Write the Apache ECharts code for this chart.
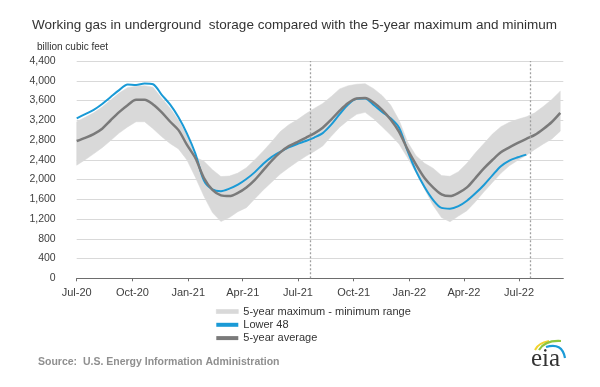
<!DOCTYPE html>
<html><head><meta charset="utf-8">
<script src="https://cdn.jsdelivr.net/npm/echarts@6/dist/echarts.min.js"></script>
<style>html,body{margin:0;padding:0;background:#fff}#c{width:600px;height:387px}</style>
</head><body><div id="c"></div>
<script>
// Data sampled every 14 days starting 2020-07-01 (billion cubic feet)
const startDate = '2020-07-01';
const stepDays = 14;
const endDate = '2022-09-12';

const lower48 = [
  3240,3325,3410,3530,3670,3810,3925,3915,3945,3930,
  3720,3520,3260,2930,2520,1980,1800,1765,1815,1895,
  2010,2150,2320,2460,2560,2650,2720,2780,2850,2940,
  3110,3325,3520,3635,3640,3510,3370,3240,3050,2580,
  2170,1850,1590,1425,1410,1460,1570,1720,1890,2085,
  2270,2385,2450,2505
];
const avg5 = [
  2780,2845,2920,3030,3200,3365,3505,3615,3615,3520,
  3365,3175,3000,2700,2430,2030,1790,1680,1665,1730,
  1840,1995,2190,2385,2550,2675,2755,2845,2935,3050,
  3215,3395,3550,3640,3650,3560,3410,3215,2965,2610,
  2300,2030,1840,1700,1665,1730,1840,2030,2225,2395,
  2550,2650,2740,2825,2905,3025,3165,3350
];
const max5 = [
  3170,3260,3350,3470,3610,3750,3860,3890,3900,3870,
  3650,3450,3200,2900,2450,2370,2200,2060,2070,2130,
  2240,2400,2580,2770,2970,3110,3210,3330,3440,3540,
  3680,3835,3900,3930,3940,3840,3700,3510,3200,2760,
  2480,2330,2230,2080,2065,2160,2330,2540,2730,2920,
  3070,3160,3220,3270,3350,3480,3620,3790
];
const min5 = [
  2290,2400,2520,2645,2790,2940,3065,3170,3170,3030,
  2870,2730,2620,2395,2040,1660,1330,1150,1230,1350,
  1430,1610,1790,1950,2110,2240,2360,2470,2570,2680,
  2875,3060,3200,3320,3360,3230,3070,2900,2720,2440,
  2140,1810,1480,1230,1145,1260,1370,1550,1750,1940,
  2125,2280,2390,2490,2610,2720,2820,2980
];
const tickDates = ['2020-07-01','2020-10-01','2021-01-01','2021-04-01','2021-07-01','2021-10-01','2022-01-01','2022-04-01','2022-07-01'];
const refDates = ['2021-07-22','2022-07-20'];
const yMin = 0, yMax = 4400, yStep = 400;
const monthNames = ['Jan','Feb','Mar','Apr','May','Jun','Jul','Aug','Sep','Oct','Nov','Dec'];

const DAY = 86400000;
const t0 = Date.parse(startDate + 'T00:00:00Z');
const dayOf = s => Math.round((Date.parse(s + 'T00:00:00Z') - t0) / DAY);
const pairs = arr => arr.map((v, i) => [i * stepDays, v]);

const chart = echarts.init(document.getElementById('c'), null, {renderer: 'canvas'});
const font = 'Liberation Sans, Arial, sans-serif';
const bandColor = '#d9d9d9';

chart.setOption({
  animation: false,
  backgroundColor: '#ffffff',
  title: {
    text: 'Working gas in underground  storage compared with the 5-year maximum and minimum',
    left: 32, top: 18, padding: 0,
    textStyle: {fontFamily: font, fontSize: 13.5, fontWeight: 'normal', color: '#333333'}
  },
  grid: {left: 76.7, right: 36.7, top: 61, bottom: 108.7, containLabel: false},
  xAxis: {
    type: 'value', min: 0, max: dayOf(endDate),
    splitLine: {show: false},
    axisLine: {lineStyle: {color: '#6d6d6d', width: 1}},
    axisTick: {show: true, length: 3, lineStyle: {color: '#6d6d6d'}, customValues: tickDates.map(dayOf)},
    axisLabel: {
      customValues: tickDates.map(dayOf),
      margin: 9, fontFamily: font, fontSize: 11, color: '#404040',
      formatter: v => {
        const d = new Date(t0 + v * DAY);
        return monthNames[d.getUTCMonth()] + '-' + String(d.getUTCFullYear()).slice(2);
      }
    }
  },
  yAxis: {
    type: 'value', min: yMin, max: yMax, interval: yStep,
    axisLine: {show: false}, axisTick: {show: false},
    splitLine: {lineStyle: {color: '#d9d9d9', width: 1}},
    axisLabel: {margin: 21, fontFamily: font, fontSize: 10.5, color: '#404040',
      formatter: v => v.toLocaleString('en-US')}
  },
  legend: {
    orient: 'vertical', left: 216, top: 305, padding: 0,
    itemWidth: 22, itemHeight: 4, itemGap: 0.3, itemTextGap: 2,
    textStyle: {fontFamily: font, fontSize: 11, color: '#333333', lineHeight: 13},
    data: [
      {name: '5-year maximum - minimum range', icon: 'rect', itemStyle: {color: bandColor, borderColor: bandColor, borderWidth: 0.6}},
      {name: 'Lower 48', icon: 'rect', itemStyle: {color: '#1a9ad6', borderWidth: 0}},
      {name: '5-year average', icon: 'rect', itemStyle: {color: '#7a7a7a', borderWidth: 0}}
    ]
  },
  series: [
    {
      name: '5-year maximum - minimum range', type: 'custom',
      data: [[0, yMin]], silent: true, z: 1,
      itemStyle: {color: bandColor},
      renderItem: (params, api) => {
        const upper = max5.map((v, i) => api.coord([i * stepDays, v]));
        const lower = min5.map((v, i) => api.coord([i * stepDays, v])).reverse();
        return {type: 'polygon', shape: {points: upper.concat(lower)}, style: {fill: bandColor, stroke: bandColor, lineWidth: 0.5}};
      }
    },
    {
      name: 'Lower 48', type: 'line', data: pairs(lower48),
      symbol: 'none', smooth: 0.3, color: '#1a9ad6',
      lineStyle: {color: '#1a9ad6', width: 2}, z: 3
    },
    {
      name: '5-year average', type: 'line', data: pairs(avg5),
      symbol: 'none', smooth: 0.3, color: '#7a7a7a',
      lineStyle: {color: '#7a7a7a', width: 2.5}, z: 4,
      markLine: {
        silent: true, symbol: ['none', 'none'], label: {show: false},
        lineStyle: {color: '#a0a0a0', type: [2, 2], width: 1.3},
        data: refDates.map(s => ({xAxis: dayOf(s)}))
      }
    }
  ],
  graphic: [
    {type: 'text', left: 37, top: 42.5, style: {text: 'billion cubic feet', fontFamily: font, fontSize: 10, fill: '#333333'}},
    {type: 'text', left: 38, top: 357, style: {text: 'Source:  U.S. Energy Information Administration', fontFamily: font, fontSize: 10.5, fontWeight: 'bold', fill: '#8f8f8f'}},
    {type: 'text', left: 531, top: 347, style: {text: 'eia', fontFamily: 'Liberation Serif, serif', fontSize: 25, fill: '#333333'}},
    {type: 'bezierCurve', shape: {x1: 535, y1: 350, cpx1: 538, cpy1: 343, x2: 549, y2: 341}, style: {stroke: '#f2d22e', lineWidth: 2, fill: null}},
    {type: 'bezierCurve', shape: {x1: 539, y1: 350, cpx1: 545, cpy1: 340, x2: 561, y2: 341}, style: {stroke: '#8dc63f', lineWidth: 2.2, fill: null}},
    {type: 'bezierCurve', shape: {x1: 546, y1: 347, cpx1: 562, cpy1: 342, x2: 565, y2: 358}, style: {stroke: '#1b9bd7', lineWidth: 2.2, fill: null}}
  ]
});
</script></body></html>
